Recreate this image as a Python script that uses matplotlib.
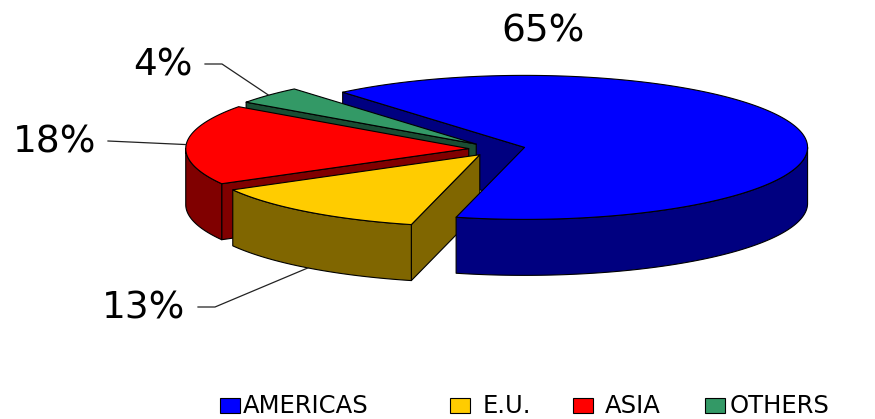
import numpy as np
import matplotlib
matplotlib.use("Agg")
import matplotlib.pyplot as plt
from matplotlib.patches import Polygon, Rectangle

# ---- data ----
categories = ["AMERICAS", "E.U.", "ASIA", "OTHERS"]
shares = [65, 13, 18, 4]
top_colors = ["#0000FF", "#FFCC00", "#FF0000", "#339966"]
side_colors = ["#000080", "#806600", "#800000", "#1A4D33"]
label_texts = [f"{v}%" for v in shares]

# ---- layout ----
W, H = 875, 419
fig = plt.figure(figsize=(W / 100, H / 100), dpi=100)
ax = fig.add_axes([0, 0, 1, 1])
ax.set_xlim(0, W)
ax.set_ylim(H, 0)
ax.axis("off")

cx, cy = 497, 149          # centre of the pie (top surface)
rx, ry = 283, 72           # ellipse radii of the tilted disk
depth = 56                 # thickness of the pie
explode = 0.10             # radial offset of every slice
start = 130.0              # angle where the first slice begins (deg)
edge_kw = dict(edgecolor="black", linewidth=0.8, joinstyle="round")

fracs = np.array(shares, dtype=float) / sum(shares)
spans = 360.0 * fracs
t1s = start - np.concatenate([[0.0], np.cumsum(spans)[:-1]])   # ccw end
t0s = t1s - spans                                                # ccw start
mids = 0.5 * (t0s + t1s)


def apex_of(m):
    r = np.radians(m)
    return (cx + explode * rx * np.cos(r), cy - explode * ry * np.sin(r))


def rim(apex, t_deg, down=0.0):
    r = np.radians(t_deg)
    return (apex[0] + rx * np.cos(r), apex[1] - ry * np.sin(r) + down)


radial_faces = []   # (depth key, polygon, colour)
walls = []
tops = []

for i in range(len(shares)):
    t0, t1, m = t0s[i], t1s[i], mids[i]
    ap = apex_of(m)
    ap_disk_y = explode * np.sin(np.radians(m))

    # top surface
    ts = np.linspace(t0, t1, max(int(abs(t1 - t0)) * 2, 4))
    top = [ap] + [rim(ap, t) for t in ts]
    tops.append((top, top_colors[i]))

    # flat cut faces that face the viewer
    for t, visible in ((t1, np.cos(np.radians(t1)) < 0),
                       (t0, np.cos(np.radians(t0)) > 0)):
        if visible:
            p_top = rim(ap, t)
            poly = [ap, p_top, rim(ap, t, depth), (ap[0], ap[1] + depth)]
            key = ap_disk_y + 0.5 * np.sin(np.radians(t))
            radial_faces.append((key, poly, side_colors[i]))

    # outer curved wall on the front half
    for k in (-1, 0, 1):
        a = max(t0, -180 + 360 * k)
        b = min(t1, 0 + 360 * k)
        if b > a:
            tt = np.linspace(a, b, max(int(b - a) * 2, 4))
            upper = [rim(ap, t) for t in tt]
            lower = [rim(ap, t, depth) for t in tt[::-1]]
            key = ap_disk_y + np.sin(np.radians(0.5 * (a + b)))
            walls.append((key, upper + lower, side_colors[i]))

for key, poly, col in sorted(radial_faces, key=lambda x: -x[0]):
    ax.add_patch(Polygon(poly, closed=True, facecolor=col, **edge_kw))
for key, poly, col in sorted(walls, key=lambda x: -x[0]):
    ax.add_patch(Polygon(poly, closed=True, facecolor=col, **edge_kw))
for poly, col in tops:
    ax.add_patch(Polygon(poly, closed=True, facecolor=col, **edge_kw))

# ---- percentage labels with leader lines ----
label_pos = [(543, 32), (144, 308), (55, 142), (163, 65)]
leader_start = [None, [(198, 307), (215, 307)], [(108, 141)],
                [(205, 64), (222, 64)]]
leader_bottom = [False, True, False, False]

for i, txt in enumerate(label_texts):
    ax.text(*label_pos[i], txt, ha="center", va="center",
            fontsize=27, color="black", family="DejaVu Sans")
    if leader_start[i] is not None:
        ap = apex_of(mids[i])
        end = rim(ap, mids[i], depth if leader_bottom[i] else 0)
        pts = leader_start[i] + [end]
        xs, ys = zip(*pts)
        ax.plot(xs, ys, color="#222222", linewidth=0.9, zorder=5)

# ---- legend ----
box_x = [220, 450, 573, 705]
text_x = [243, 483, 605, 730]
for i, name in enumerate(categories):
    ax.add_patch(Rectangle((box_x[i], 398), 20, 15, facecolor=top_colors[i],
                           edgecolor="black", linewidth=0.8))
    ax.text(text_x[i], 412.5, name, ha="left", va="baseline",
            fontsize=17.5, color="black", family="DejaVu Sans")

fig.savefig("out.png", dpi=100)
